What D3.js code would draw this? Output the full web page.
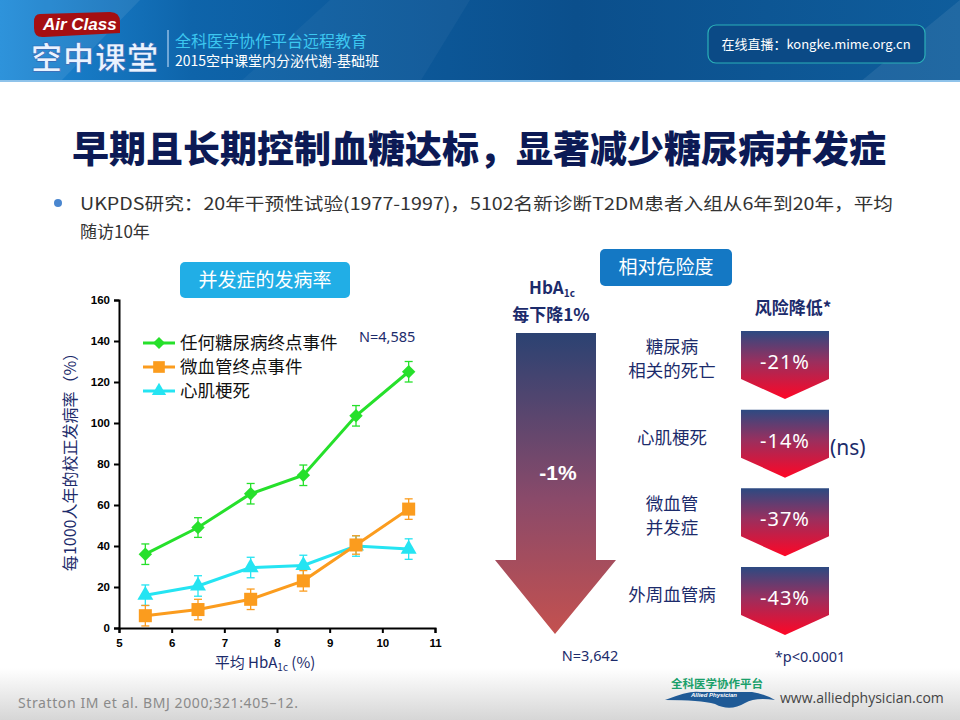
<!DOCTYPE html>
<html>
<head>
<meta charset="utf-8">
<script src="https://cdn.jsdelivr.net/npm/d3@7"></script>
<style>
  body { margin: 0; background: #fff; }
  svg { display: block; font-family: "Noto Sans CJK SC", "Noto Sans", sans-serif; }
</style>
</head>
<body>
<svg id="slide" width="960" height="720"></svg>
<script>
// ---- data ----
const hba1c = [5.5, 6.5, 7.5, 8.5, 9.5, 10.5];
const anyEndpoint = [36, 49, 65.5, 74.5, 103.5, 125];
const anyEndpointErr = [5, 4.8, 5, 5, 5, 5];
const microvascular = [6, 9, 14, 23, 40.5, 58];
const microvascularErr = [5, 5, 5, 5, 4.5, 5];
const infarction = [16, 20.5, 29.5, 30.5, 40, 38.5];
const infarctionErr = [5, 5, 5, 5, 5, 5];
const xTicks = [5, 6, 7, 8, 9, 10, 11];
const yTicks = [0, 20, 40, 60, 80, 100, 120, 140, 160];
const seriesNames = ['任何糖尿病终点事件', '微血管终点事件', '心肌梗死'];
const riskLabels = [['糖尿病', '相关的死亡'], ['心肌梗死'], ['微血管', '并发症'], ['外周血管病']];
const riskReduction = [-21, -14, -37, -43];
const riskNotes = ['', '(ns)', '', ''];

const NAVY = '#1c2b6b';
const cjk = '"Noto Sans CJK SC", sans-serif';

const svg = d3.select('#slide');
const defs = svg.append('defs');

// gradients
function linGrad(id, stops, x2, y2) {
  const g = defs.append('linearGradient').attr('id', id)
      .attr('x1', 0).attr('y1', 0).attr('x2', x2).attr('y2', y2);
  stops.forEach(s => g.append('stop').attr('offset', s[0]).attr('stop-color', s[1]));
}
linGrad('hdr', [[0, '#1d8ad8'], [0.2, '#0e64aa'], [0.6, '#0b4f8c'], [1, '#0f5d9c']], 1, 0);
linGrad('ftr', [[0, '#ffffff'], [1, '#d6d6d6']], 0, 1);
linGrad('bigArrow', [[0, '#2b4272'], [0.55, '#8a4a6a'], [1, '#c4514f']], 0, 1);
linGrad('chev', [[0, '#2c4a82'], [0.45, '#9a2f5e'], [1, '#ff0626']], 0, 1);

// ---- header band ----
svg.append('rect').attr('width', 960).attr('height', 82).attr('fill', 'url(#hdr)');
svg.append('path').attr('d', 'M0,0 L140,0 L60,82 L0,82 Z').attr('fill', '#ffffff').attr('opacity', 0.08);
svg.append('path').attr('d', 'M330,0 L470,0 L420,82 L240,82 Z').attr('fill', '#ffffff').attr('opacity', 0.04);
svg.append('path').attr('d', 'M860,82 L960,0 L960,82 Z').attr('fill', '#ffffff').attr('opacity', 0.08);
svg.append('rect').attr('y', 80).attr('width', 960).attr('height', 2).attr('fill', '#8fc3ea');

// logo
svg.append('path')
    .attr('d', 'M40,14 L110,12 Q120,12 120,22 L120,33 L44,37 Q34,38 34,28 L34,22 Q34,14 40,14 Z')
    .attr('fill', '#a50f12');
svg.append('text').attr('x', 43).attr('y', 30)
    .attr('font-family', '"Liberation Sans", Arial, sans-serif').attr('font-weight', 700)
    .attr('font-style', 'italic').attr('font-size', 17).attr('fill', '#fff').text('Air Class');
svg.append('text').attr('x', 31).attr('y', 69)
    .attr('font-family', cjk).attr('font-weight', 700).attr('font-size', 31)
    .attr('fill', '#eaf3ff').attr('stroke', '#2a5fb0').attr('stroke-width', 0.6)
    .attr('letter-spacing', 1).text('空中课堂');
svg.append('line').attr('x1', 168).attr('x2', 168).attr('y1', 30).attr('y2', 67)
    .attr('stroke', '#cfe6ff').attr('stroke-width', 1);
svg.append('text').attr('x', 175).attr('y', 47).attr('font-family', cjk)
    .attr('font-size', 16).attr('fill', '#3cc7f0').text('全科医学协作平台远程教育');
svg.append('text').attr('x', 175).attr('y', 66).attr('font-family', cjk)
    .attr('font-size', 14).attr('fill', '#ffffff').text('2015空中课堂内分泌代谢-基础班');

svg.append('rect').attr('x', 708).attr('y', 25).attr('width', 217).attr('height', 38).attr('rx', 8)
    .attr('fill', '#0b4a86').attr('stroke', '#2bb0b8').attr('stroke-width', 1.2);
svg.append('text').attr('x', 816).attr('y', 49).attr('text-anchor', 'middle')
    .attr('font-family', cjk).attr('font-size', 13).attr('fill', '#fff')
    .text('在线直播：kongke.mime.org.cn');

// ---- footer band ----
svg.append('rect').attr('y', 668).attr('width', 960).attr('height', 52).attr('fill', 'url(#ftr)');
svg.append('text').attr('x', 18).attr('y', 708).attr('font-family', '"Noto Sans", sans-serif')
    .attr('font-size', 14).attr('textLength', 280).attr('fill', '#8a8a8a')
    .text('Stratton IM et al. BMJ 2000;321:405–12.');
svg.append('text').attr('x', 671).attr('y', 688).attr('font-family', cjk).attr('font-weight', 700)
    .attr('font-size', 11.5).attr('fill', '#1aa06a').text('全科医学协作平台');
svg.append('path')
    .attr('d', 'M665,700 Q690,690 700,692 L752,692 Q765,694 775,700 Q755,697 745,703 Q730,712 715,704 Q700,700 665,700 Z')
    .attr('fill', '#1f5a96');
svg.append('text').attr('x', 714).attr('y', 697).attr('text-anchor', 'middle')
    .attr('font-family', '"Liberation Sans", sans-serif').attr('font-weight', 700).attr('font-style', 'italic')
    .attr('font-size', 6).attr('fill', '#fff').text('Allied Physician');
svg.append('text').attr('x', 780).attr('y', 703).attr('font-family', '"Open Sans", sans-serif')
    .attr('font-size', 14).attr('fill', '#444').text('www.alliedphysician.com');

// ---- title & bullet ----
svg.append('text').attr('x', 479).attr('y', 163).attr('text-anchor', 'middle')
    .attr('font-family', cjk).attr('font-weight', 900).attr('font-size', 37)
    .attr('fill', '#0c1a55').text('早期且长期控制血糖达标，显著减少糖尿病并发症');
svg.append('circle').attr('cx', 58).attr('cy', 203).attr('r', 4).attr('fill', '#4a86cf');
svg.append('text').attr('x', 80).attr('y', 210).attr('font-family', cjk).attr('font-size', 17)
    .attr('textLength', 813).attr('lengthAdjust', 'spacingAndGlyphs')
    .attr('fill', '#333').text('UKPDS研究：20年干预性试验(1977-1997)，5102名新诊断T2DM患者入组从6年到20年，平均');
svg.append('text').attr('x', 80).attr('y', 238).attr('font-family', cjk).attr('font-size', 17)
    .attr('fill', '#333').text('随访10年');

// section tags
function tag(x, y, w, h, fill, label, size) {
  svg.append('rect').attr('x', x).attr('y', y).attr('width', w).attr('height', h).attr('rx', 5).attr('fill', fill);
  svg.append('text').attr('x', x + w / 2).attr('y', y + h / 2 + size * 0.36).attr('text-anchor', 'middle')
      .attr('font-family', cjk).attr('font-size', size).attr('fill', '#fff').text(label);
}
tag(180, 262, 170, 36, '#21aee6', '并发症的发病率', 19);
tag(600, 249, 132, 37, '#1478c4', '相对危险度', 19);

// ---- left chart ----
const margin = {left: 119, top: 300};
const width = 316, height = 328;
const chart = svg.append('g').attr('transform', `translate(${margin.left},${margin.top})`);

const x = d3.scaleLinear().domain([5, 11]).range([0, width]);
const y = d3.scaleLinear().domain([0, 160]).range([height, 0]);

const xAxisG = chart.append('g').attr('transform', `translate(0,${height})`)
    .call(d3.axisBottom(x).tickValues(xTicks).tickSize(5).tickPadding(6).tickFormat(d3.format('d')));
const yAxisG = chart.append('g')
    .call(d3.axisLeft(y).tickValues(yTicks).tickSize(5).tickPadding(4).tickFormat(d3.format('d')));
[xAxisG, yAxisG].forEach(g => {
  g.select('.domain').attr('stroke', '#000').attr('stroke-width', 2);
  g.selectAll('.tick line').attr('stroke', '#000').attr('stroke-width', 2);
  g.selectAll('.tick text').attr('fill', '#000').attr('font-weight', 700)
      .attr('font-family', '"Liberation Sans", Arial, sans-serif').attr('font-size', 11.5);
});

// diamond = square turned 45 degrees
const series = [
  {name: seriesNames[0], vals: anyEndpoint, err: anyEndpointErr, color: '#26e02b', shape: d3.symbolSquare, size: 90, rot: 45},
  {name: seriesNames[1], vals: microvascular, err: microvascularErr, color: '#fb9c1e', shape: d3.symbolSquare, size: 170, rot: 0},
  {name: seriesNames[2], vals: infarction, err: infarctionErr, color: '#25e4f2', shape: d3.symbolTriangle, size: 110, rot: 0}
];

const line = d3.line().x((d, i) => x(hba1c[i])).y(d => y(d));

series.slice().reverse().forEach(s => {
  const g = chart.append('g');
  // error bars
  s.vals.forEach((v, i) => {
    const cx = x(hba1c[i]);
    g.append('line').attr('x1', cx).attr('x2', cx).attr('y1', y(v - s.err[i])).attr('y2', y(v + s.err[i]))
        .attr('stroke', s.color).attr('stroke-width', 1.3);
    [v - s.err[i], v + s.err[i]].forEach(e => {
      g.append('line').attr('x1', cx - 4).attr('x2', cx + 4).attr('y1', y(e)).attr('y2', y(e))
          .attr('stroke', s.color).attr('stroke-width', 1.3);
    });
  });
  g.append('path').datum(s.vals).attr('d', line).attr('fill', 'none')
      .attr('stroke', s.color).attr('stroke-width', 3);
  g.selectAll('.pt').data(s.vals).join('path').attr('class', 'pt')
      .attr('transform', (d, i) => `translate(${x(hba1c[i])},${y(d)}) rotate(${s.rot})`)
      .attr('d', d3.symbol().type(s.shape).size(s.size)).attr('fill', s.color);
});

// legend
const legend = svg.append('g').attr('transform', 'translate(143,343)');
series.forEach((s, i) => {
  const row = legend.append('g').attr('transform', `translate(0,${i * 24})`);
  row.append('line').attr('x1', 0).attr('x2', 32).attr('stroke', s.color).attr('stroke-width', 3);
  row.append('path').attr('transform', `translate(16,0) rotate(${s.rot})`)
      .attr('d', d3.symbol().type(s.shape).size(s.size * 0.8)).attr('fill', s.color);
  row.append('text').attr('x', 37).attr('y', 6).attr('font-family', cjk).attr('font-size', 17.5)
      .attr('fill', '#111').text(s.name);
});
svg.append('text').attr('x', 359).attr('y', 342).attr('font-family', '"Noto Sans", sans-serif')
    .attr('font-size', 14.5).attr('fill', NAVY).text('N=4,585');

// axis titles
svg.append('text').attr('transform', 'translate(76,458) rotate(-90)').attr('text-anchor', 'middle')
    .attr('font-family', cjk).attr('font-size', 16).attr('fill', NAVY).text('每1000人年的校正发病率（%）');
const xt = svg.append('text').attr('x', 265).attr('y', 668).attr('text-anchor', 'middle')
    .attr('font-family', cjk).attr('font-size', 15).attr('fill', NAVY);
xt.append('tspan').text('平均 HbA');
xt.append('tspan').attr('font-size', 10).attr('dy', 3).text('1c');
xt.append('tspan').attr('dy', -3).text(' (%)');

// ---- right: relative risk ----
const hb = svg.append('text').attr('x', 552).attr('y', 294).attr('text-anchor', 'middle')
    .attr('font-family', cjk).attr('font-weight', 700).attr('font-size', 17).attr('fill', NAVY);
hb.append('tspan').text('HbA');
hb.append('tspan').attr('font-size', 10).attr('dy', 3).text('1c');
svg.append('text').attr('x', 551).attr('y', 321).attr('text-anchor', 'middle')
    .attr('font-family', cjk).attr('font-weight', 700).attr('font-size', 17).attr('fill', NAVY).text('每下降1%');

svg.append('path').attr('d', 'M516,333 L596,333 L596,560 L616,560 L555,634 L495,560 L516,560 Z')
    .attr('fill', 'url(#bigArrow)');
svg.append('text').attr('x', 558).attr('y', 480).attr('text-anchor', 'middle')
    .attr('font-family', '"Liberation Sans", Arial, sans-serif').attr('font-weight', 700)
    .attr('font-size', 21).attr('fill', '#fff').text('-1%');

svg.append('text').attr('x', 793).attr('y', 314).attr('text-anchor', 'middle')
    .attr('font-family', cjk).attr('font-weight', 700).attr('font-size', 17).attr('fill', NAVY).text('风险降低*');

const rowY = d3.scalePoint().domain(d3.range(riskReduction.length)).range([331, 567]);
const chevW = 88, chevH = 48, chevTip = 20, chevX = 741;

riskReduction.forEach((v, i) => {
  const top = rowY(i);
  const g = svg.append('g').attr('transform', `translate(${chevX},${top})`);
  g.append('path')
      .attr('d', `M0,0 L${chevW},0 L${chevW},${chevH} L${chevW / 2},${chevH + chevTip} L0,${chevH} Z`)
      .attr('fill', 'url(#chev)');
  g.append('text').attr('x', chevW / 2).attr('y', 38).attr('text-anchor', 'middle')
      .attr('font-family', '"Noto Sans", sans-serif').attr('font-size', 20).attr('fill', '#fff')
      .attr('letter-spacing', 1).text(`${v}%`);
  if (riskNotes[i]) {
    g.append('text').attr('x', chevW + 1).attr('y', 45).attr('font-family', '"Noto Sans", sans-serif')
        .attr('font-size', 21).attr('fill', NAVY).text(riskNotes[i]);
  }
  // one text element per line so the lines do not share a box
  const lines = riskLabels[i];
  const midY = top + 34 - (lines.length - 1) * 12;
  lines.forEach((l, j) => {
    svg.append('text').attr('x', 672).attr('y', midY + j * 24).attr('text-anchor', 'middle')
        .attr('font-family', cjk).attr('font-size', 17.5).attr('fill', NAVY).text(l);
  });
});

svg.append('text').attr('x', 590).attr('y', 661).attr('text-anchor', 'middle')
    .attr('font-family', '"Noto Sans", sans-serif').attr('font-size', 14.5).attr('fill', NAVY).text('N=3,642');
svg.append('text').attr('x', 810).attr('y', 662).attr('text-anchor', 'middle')
    .attr('font-family', '"Noto Sans", sans-serif').attr('font-size', 14.5).attr('fill', NAVY).text('*p<0.0001');
</script>
</body>
</html>
